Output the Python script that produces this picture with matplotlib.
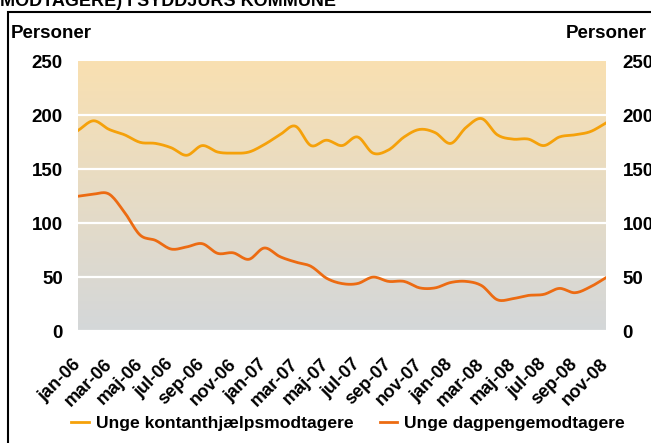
import numpy as np
import matplotlib.pyplot as plt
from matplotlib.patches import Rectangle

plt.rcParams['font.family'] = ['Liberation Sans', 'DejaVu Sans']
plt.rcParams['font.weight'] = 'bold'

# data: monthly, jan-06 .. nov-08
months = ["jan-06", "feb-06", "mar-06", "apr-06", "maj-06", "jun-06", "jul-06", "aug-06",
          "sep-06", "okt-06", "nov-06", "dec-06", "jan-07", "feb-07", "mar-07", "apr-07",
          "maj-07", "jun-07", "jul-07", "aug-07", "sep-07", "okt-07", "nov-07", "dec-07",
          "jan-08", "feb-08", "mar-08", "apr-08", "maj-08", "jun-08", "jul-08", "aug-08",
          "sep-08", "okt-08", "nov-08"]

kontant = [186, 195, 187, 182, 175, 174, 170, 163, 172, 166, 165, 166, 173, 182, 190, 172,
           177, 172, 180, 165, 168, 180, 187, 184, 174, 189, 197, 182, 178, 178, 172, 180,
           182, 185, 193]

dagpenge = [125, 127, 127, 110, 89, 84, 76, 78, 81, 72, 72.5, 66.5, 77, 69, 64, 60,
            49, 44, 44, 50, 46, 46, 40, 40, 45, 46, 42, 29, 30, 33, 34, 39.5,
            35.5, 41, 49.5]

yticks = [0, 50, 100, 150, 200, 250]

c_kontant = "#F5A10A"
c_dagpenge = "#EC6B12"


def smooth(y, n=12):
    # catmull-rom style curve through the points, like excel's smoothed lines
    y = np.asarray(y, dtype=float)
    p = np.concatenate([[2 * y[0] - y[1]], y, [2 * y[-1] - y[-2]]])
    xs, ys = [], []
    for i in range(len(y) - 1):
        p0, p1, p2, p3 = p[i], p[i + 1], p[i + 2], p[i + 3]
        t = np.linspace(0, 1, n, endpoint=False)
        v = 0.5 * ((2 * p1) + (-p0 + p2) * t + (2 * p0 - 5 * p1 + 4 * p2 - p3) * t ** 2
                   + (-p0 + 3 * p1 - 3 * p2 + p3) * t ** 3)
        xs.extend(i + t)
        ys.extend(v)
    xs.append(len(y) - 1)
    ys.append(y[-1])
    return np.array(xs), np.array(ys)


fig = plt.figure(figsize=(6.51, 4.43), dpi=100)
ax = fig.add_axes([78 / 651, 1 - 331 / 443, 528 / 651, 269.5 / 443])

x = np.arange(len(months))

# gradient background
top = np.array([249, 224, 177]) / 255
bot = np.array([212, 215, 217]) / 255
g = np.linspace(0, 1, 256)[:, None]
grad = (top[None, :] * (1 - g) + bot[None, :] * g)[:, None, :]
ax.imshow(grad, extent=[0, len(x) - 1, 0, 250], aspect='auto', zorder=0,
          interpolation='bilinear')

for yv in yticks[:-1]:
    ax.axhline(yv, color='white', lw=1.6, zorder=1)

sx, sy = smooth(kontant)
ax.plot(sx, sy, color=c_kontant, lw=2.0, zorder=3, label="Unge kontanthjælpsmodtagere")
sx, sy = smooth(dagpenge)
ax.plot(sx, sy, color=c_dagpenge, lw=2.0, zorder=3, label="Unge dagpengemodtagere")

ax.set_xlim(0, len(x) - 1)
ax.set_ylim(0, 250)
ax.set_yticks(yticks)
ax.set_yticklabels([str(v) for v in yticks], fontsize=13.5, fontweight='bold')
ax.tick_params(axis='y', length=0, pad=11)
ax.set_xticks(x[::2])
ax.set_xticklabels(months[::2], fontsize=13, fontweight='bold', rotation=45,
                   ha='right', va='center', rotation_mode='anchor')
ax.tick_params(axis='x', length=0, pad=22)
for s in ax.spines.values():
    s.set_visible(False)

ax2 = ax.twinx()
ax2.set_ylim(0, 250)
ax2.set_yticks(yticks)
ax2.set_yticklabels([str(v) for v in yticks], fontsize=13.5, fontweight='bold')
ax2.tick_params(axis='y', length=0, pad=12)
for s in ax2.spines.values():
    s.set_visible(False)

fig.text(11 / 651, 1 - 33 / 443, "Personer", fontsize=13.5, fontweight='bold', va='center')
fig.text(566 / 651, 1 - 33 / 443, "Personer", fontsize=13.5, fontweight='bold', va='center')
fig.text(0, 1 - 6 / 443, "MODTAGERE) I SYDDJURS KOMMUNE", fontsize=13, fontweight='bold',
         va='baseline', ha='left')

fig.add_artist(Rectangle((8 / 651, -0.05), 1.0, 1 - 12 / 443 + 0.05,
                         transform=fig.transFigure, fill=False, ec='black', lw=1.5))

fig.legend(loc='center', bbox_to_anchor=(348 / 651, 1 - 423 / 443), ncol=2, frameon=False,
           prop={'size': 12.6, 'weight': 'bold'}, handlelength=1.0, handletextpad=0.4,
           columnspacing=1.5)

fig.savefig("out.png", dpi=100)
